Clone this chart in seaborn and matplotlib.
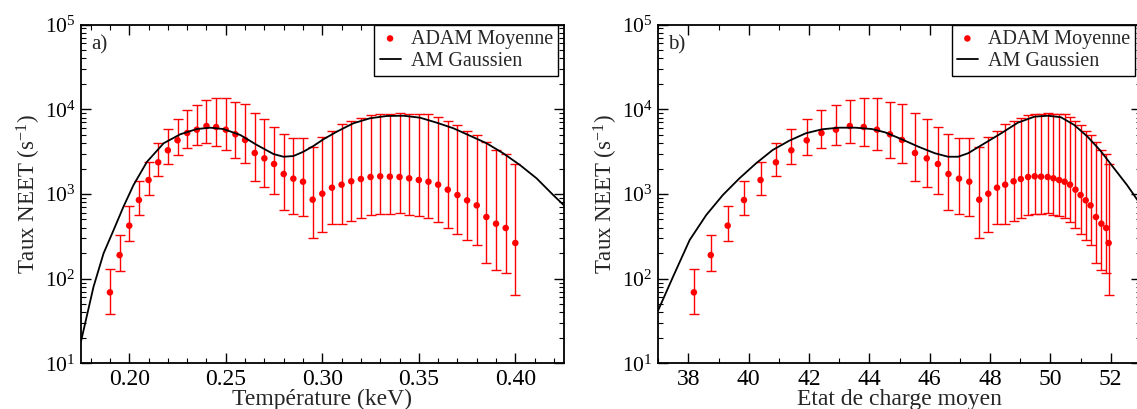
import matplotlib
matplotlib.use("Agg")
import matplotlib.pyplot as plt
import numpy as np
import pandas as pd
import seaborn as sns
from matplotlib.ticker import FormatStrFormatter, LogLocator, MultipleLocator, NullFormatter

# ADAM mean rates (s^-1), shared by both panels
temperature = [0.190, 0.195, 0.200, 0.205, 0.210, 0.215, 0.220, 0.225, 0.230, 0.235,
               0.240, 0.245, 0.250, 0.255, 0.260, 0.265, 0.270, 0.275, 0.280, 0.285,
               0.290, 0.295, 0.300, 0.305, 0.310, 0.315, 0.320, 0.325, 0.330, 0.335,
               0.340, 0.345, 0.350, 0.355, 0.360, 0.365, 0.370, 0.375, 0.380, 0.385,
               0.390, 0.395, 0.400]
charge = [38.18, 38.74, 39.30, 39.84, 40.39, 40.90, 41.41, 41.92, 42.41, 42.89,
          43.35, 43.81, 44.25, 44.68, 45.08, 45.51, 45.90, 46.27, 46.62, 46.97,
          47.31, 47.64, 47.94, 48.23, 48.50, 48.78, 49.02, 49.26, 49.48, 49.69,
          49.91, 50.10, 50.29, 50.47, 50.65, 50.83, 51.00, 51.17, 51.33, 51.51,
          51.69, 51.85, 51.93]
rate_mean = [69, 190, 423, 849, 1462, 2367, 3281, 4305, 5247, 5745,
             6353, 6180, 5745, 5070, 4345, 3049, 2636, 2260, 1722, 1517,
             1397, 857, 1008, 1187, 1288, 1412, 1503, 1588, 1618, 1603,
             1588, 1532, 1462, 1397, 1288, 1125, 973, 842, 734, 535,
             446, 397, 264]
rate_low = [38.6, 122, 281, 565, 966, 1645, 2244, 2862, 3490, 3757,
            4000, 3716, 3281, 2660, 2301, 1423, 1211, 1000, 641, 575,
            549, 305, 359, 446, 443, 480, 525, 560, 576, 576,
            597, 570, 545, 521, 471, 397, 340, 284, 250, 152,
            128, 117, 65]
rate_high = [131, 331, 727, 1436, 2405, 4037, 5902, 7740, 9819, 11330,
             12880, 13590, 13590, 12300, 11560, 9036, 7620, 6237, 5070, 4548,
             4584, 3622, 4667, 5585, 6650, 7345, 7967, 8636, 8869, 8869,
             9036, 8727, 8727, 8727, 8185, 7270, 6580, 5585, 4935, 4074,
             3335, 2967, 2244]

# AM Gaussien curve
curve_temperature = [0.1750, 0.1815, 0.1867, 0.1919, 0.1970, 0.2022, 0.2092, 0.2178,
                     0.2264, 0.2350, 0.2419, 0.2488, 0.2575, 0.2661, 0.2747, 0.2799,
                     0.2850, 0.2902, 0.2954, 0.3006, 0.3075, 0.3161, 0.3247, 0.3334,
                     0.3420, 0.3506, 0.3593, 0.3679, 0.3765, 0.3851, 0.3937, 0.4024,
                     0.4110, 0.4196, 0.4250]
curve_temperature_rate = [18.2, 80.5, 199.5, 376, 708, 1276, 2404, 3972,
                          5070, 5848, 6067, 5848, 4977, 3793, 2965, 2754,
                          2805, 3155, 3690, 4426, 5445, 6839, 7834, 8337,
                          8395, 7962, 6950, 5970, 4875, 3972, 3027, 2198,
                          1531, 973, 741]
curve_charge = [37.0, 37.49, 38.04, 38.59, 39.14, 39.69, 40.24, 40.79, 41.34, 41.89,
                42.43, 42.99, 43.54, 44.08, 44.52, 45.07, 45.62, 46.17, 46.61, 46.94,
                47.27, 47.82, 48.37, 48.92, 49.47, 49.91, 50.35, 50.79, 51.23, 51.66,
                52.11, 52.54, 52.77, 53.0]
curve_charge_rate = [42.7, 105.7, 286.4, 564.9, 972.7, 1531, 2301, 3304, 4256, 5212,
                     5808, 6067, 6067, 5848, 5346, 4426, 3622, 3027, 2754, 2754,
                     3027, 3972, 5212, 6950, 8185, 8395, 8054, 6531, 4753, 3243,
                     2009, 1276, 973, 741]

sns.set_theme(style="ticks")
plt.rcParams["font.family"] = ["Liberation Serif", "DejaVu Serif"]
plt.rcParams["mathtext.fontset"] = "custom"
plt.rcParams["mathtext.rm"] = "Liberation Serif"
plt.rcParams["mathtext.it"] = "Liberation Serif:italic"
plt.rcParams["axes.linewidth"] = 1.3
plt.rcParams["axes.edgecolor"] = "black"

W, H = 1137, 409
AX_W, AX_H = 482.6, 338.8


def draw_panel(ax, x, curve_x, curve_y, tag, xlim, major, minor, xlabel):
    ax.set_yscale("log")
    mean = np.array(rate_mean, dtype=float)
    yerr = [mean - np.array(rate_low), np.array(rate_high) - mean]
    ax.errorbar(x, mean, yerr=yerr, fmt="none", ecolor="red", elinewidth=1.0,
                capsize=3.6, capthick=1.0, zorder=2)
    pts = pd.DataFrame({"x": x, "rate": mean})
    sns.scatterplot(data=pts, x="x", y="rate", ax=ax, color="red", s=22,
                    edgecolor="none", label="ADAM Moyenne", zorder=3)
    sns.lineplot(x=curve_x, y=curve_y, ax=ax, color="black", lw=1.3,
                 label="AM Gaussien", estimator=None, sort=False, zorder=4)

    ax.set_xlim(*xlim)
    ax.set_ylim(10, 1e5)
    ax.xaxis.set_major_locator(MultipleLocator(major))
    ax.xaxis.set_minor_locator(MultipleLocator(minor))
    ax.yaxis.set_major_locator(LogLocator(base=10))
    ax.yaxis.set_minor_locator(LogLocator(base=10, subs=np.arange(2, 10)))
    ax.yaxis.set_minor_formatter(NullFormatter())
    ax.tick_params(which="both", direction="in", top=True, right=True,
                   colors="black", pad=4)
    ax.tick_params(axis="x", labelsize=17)
    ax.tick_params(axis="y", labelsize=15.5)
    ax.tick_params(which="major", length=7, width=1.0)
    ax.tick_params(which="minor", length=3.5, width=0.8)
    ax.set_xlabel(xlabel, fontsize=17, labelpad=-1)
    ax.set_ylabel("Taux NEET (s$^{-1}$)", fontsize=16.5, labelpad=1)

    ax.text(10 / AX_W, 1 - 20.5 / AX_H, tag, transform=ax.transAxes,
            ha="left", va="center", fontsize=15)
    leg = ax.legend(loc="upper right", bbox_to_anchor=(1 - 5.6 / AX_W, 1.0),
                    borderaxespad=0, fancybox=False, edgecolor="black",
                    framealpha=1, fontsize=14.5, handlelength=1.05,
                    handletextpad=0.5, labelspacing=0.15, borderpad=0.25)
    leg.get_frame().set_linewidth(1.0)


fig = plt.figure(figsize=(W / 100, H / 100), dpi=100)
bottom = (H - 363.4) / H
ax_a = fig.add_axes([81 / W, bottom, AX_W / W, AX_H / H])
ax_b = fig.add_axes([658.3 / W, bottom, AX_W / W, AX_H / H])

draw_panel(ax_a, temperature, curve_temperature, curve_temperature_rate, "a)",
           (0.175, 0.425), 0.05, 0.01, "Température (keV)")
ax_a.xaxis.set_major_formatter(FormatStrFormatter("%.2f"))
draw_panel(ax_b, charge, curve_charge, curve_charge_rate, "b)",
           (37, 53), 2, 1, "Etat de charge moyen")

fig.savefig("out.png", dpi=100)
plt.close(fig)
